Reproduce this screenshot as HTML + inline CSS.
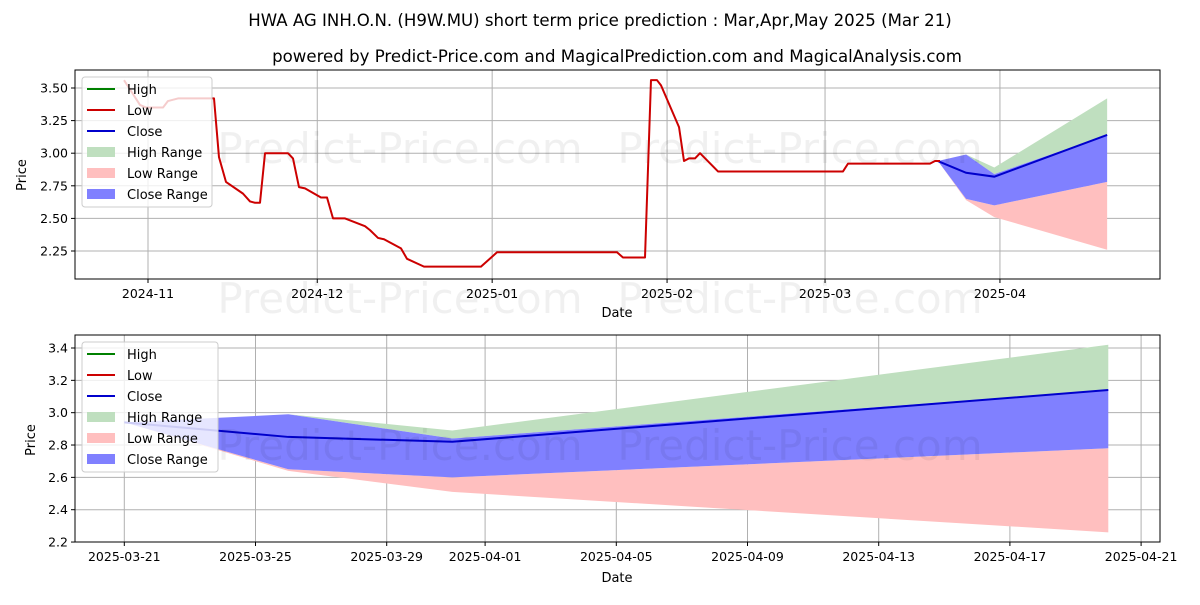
<!DOCTYPE html>
<html><head><meta charset="utf-8"><style>
body{margin:0;background:#fff;}
svg{font-family:"DejaVu Sans","Liberation Sans",sans-serif;}
</style></head><body>
<svg id="c" width="1200" height="600" xmlns="http://www.w3.org/2000/svg">
<text x="600" y="26" text-anchor="middle" font-size="16.6">HWA AG INH.O.N. (H9W.MU) short term price prediction : Mar,Apr,May 2025 (Mar 21)</text>
<text x="617" y="62" text-anchor="middle" font-size="16.6">powered by Predict-Price.com and MagicalPrediction.com and MagicalAnalysis.com</text>
<g id="top"></g>
<g id="bot"></g>
</svg>
<script>
// Top chart: history (days from 2024-11-01), low line
const histDays=[-4.25,-1.42,-0.35,2.66,3.54,5.32,11.7,12.58,13.82,16.84,18.08,18.97,19.85,20.74,24.81,25.7,26.76,27.83,30.66,31.73,32.79,34.92,38.46,39.35,40.77,41.83,44.84,45.91,48.92,59.02,61.86,83.13,84.19,88.09,89.15,90.22,90.93,94.12,95.0,95.89,96.95,97.84,101.03,123.18,124.07,138.6,139.49,140.38];
const histLow=[3.56,3.37,3.35,3.35,3.40,3.42,3.42,2.97,2.78,2.69,2.63,2.62,2.62,3.00,3.00,2.96,2.74,2.73,2.66,2.66,2.50,2.50,2.44,2.41,2.35,2.34,2.27,2.19,2.13,2.13,2.24,2.24,2.20,2.20,3.56,3.56,3.52,3.20,2.94,2.96,2.96,3.00,2.86,2.86,2.92,2.92,2.94,2.94];
// Forecast (days from 2025-03-21)
const fDays=[0,5,10,30];
const fClose=[2.94,2.85,2.82,3.14];
const fHighTop=[2.94,2.99,2.89,3.42];
const fCloseTop=[2.94,2.99,2.84,3.14];
const fCloseBot=[2.94,2.65,2.60,2.78];
const fLowBot=[2.94,2.64,2.51,2.26];
const topYTicks=[2.25,2.50,2.75,3.00,3.25,3.50];
const topXTicks=[["2024-11",0],["2024-12",30],["2025-01",61],["2025-02",92],["2025-03",120],["2025-04",151]];
const botYTicks=[2.2,2.4,2.6,2.8,3.0,3.2,3.4];
const botXTicks=[["2025-03-21",0],["2025-03-25",4],["2025-03-29",8],["2025-04-01",11],["2025-04-05",15],["2025-04-09",19],["2025-04-13",23],["2025-04-17",27],["2025-04-21",31]];

const NS="http://www.w3.org/2000/svg";
function mk(p,t,a){const e=document.createElementNS(NS,t);for(const k in a)e.setAttribute(k,a[k]);p.appendChild(e);return e;}

function panel(g,L,T,R,B,xf,yf,yTicks,yFmt,xTicks,fOff,wmY){
  mk(g,'rect',{x:L,y:T,width:R-L,height:B-T,fill:'#fff'});
  yTicks.forEach(v=>{const y=yf(v);mk(g,'line',{x1:L,x2:R,y1:y,y2:y,stroke:'#b0b0b0','stroke-width':1});
    mk(g,'line',{x1:L-4,x2:L,y1:y,y2:y,stroke:'#000'});
    const t=mk(g,'text',{x:L-7,y:y+4.5,'text-anchor':'end','font-size':12.5});t.textContent=yFmt(v);
    
    });
  xTicks.forEach(d=>{const x=xf(d[1]);mk(g,'line',{x1:x,x2:x,y1:T,y2:B,stroke:'#b0b0b0','stroke-width':1});
    mk(g,'line',{x1:x,x2:x,y1:B,y2:B+4,stroke:'#000'});
    const t=mk(g,'text',{x:x,y:B+19,'text-anchor':'middle','font-size':12.5});t.textContent=d[0];
    
    });
  function band(top,bot,col,name){let pts=[];fDays.forEach((d,i)=>pts.push(xf(d+fOff)+','+yf(top[i])));
    for(let i=fDays.length-1;i>=0;i--)pts.push(xf(fDays[i]+fOff)+','+yf(bot[i]));
    const p=mk(g,'polygon',{points:pts.join(' '),fill:col});
    
    }
  band(fHighTop,fCloseTop,'#bfdfbf','high-range');
  band(fCloseBot,fLowBot,'#ffbfbf','low-range');
  band(fCloseTop,fCloseBot,'#8080ff','close-range');
  const cl=mk(g,'polyline',{points:fDays.map((d,i)=>xf(d+fOff)+','+yf(fClose[i])).join(' '),fill:'none',stroke:'#0000cc','stroke-width':2});
  
  
  mk(g,'rect',{x:L,y:T,width:R-L,height:B-T,fill:'none',stroke:'#000','stroke-width':1});
  wmY.forEach(wy=>[400,800].forEach(wx=>{const w=mk(g,'text',{x:wx,y:wy+15,'text-anchor':'middle','font-size':42,fill:'#000','fill-opacity':0.06});w.textContent='Predict-Price.com';
  
  }));
}
function legend(g,x,y,w){
  const r=mk(g,'rect',{x:x,y:y,width:w,height:130,rx:3,fill:'#fff','fill-opacity':0.8,stroke:'#ccc'});
  
  
  const items=[['High','line','#008000'],['Low','line','#cc0000'],['Close','line','#0000cc'],['High Range','box','#bfdfbf'],['Low Range','box','#ffbfbf'],['Close Range','box','#8080ff']];
  items.forEach((it,i)=>{const cy=y+12+i*21;
    if(it[1]=='line')mk(g,'line',{x1:x+5,x2:x+33,y1:cy,y2:cy,stroke:it[2],'stroke-width':2});
    else mk(g,'rect',{x:x+5,y:cy-5,width:28,height:10,fill:it[2]});
    const t=mk(g,'text',{x:x+45,y:cy+5,'font-size':13});t.textContent=it[0];
    
    });
}
const g1=document.getElementById('top');
const tx=d=>148+d*5.642, ty=v=>88+(3.5-v)*130.4;
panel(g1,75,70,1160,279,tx,ty,topYTicks,v=>v.toFixed(2),topXTicks,140,[148,298]);
const low=mk(g1,'polyline',{points:histDays.map((d,i)=>tx(d)+','+ty(histLow[i])).join(' '),fill:'none',stroke:'#cc0000','stroke-width':2,'stroke-linejoin':'round'});


legend(g1,82,77,130);
let t=mk(g1,'text',{x:617,y:317,'text-anchor':'middle','font-size':13});t.textContent='Date';

t=mk(g1,'text',{x:26,y:175,'text-anchor':'middle','font-size':13,transform:'rotate(-90 26 175)'});t.textContent='Price';

const g2=document.getElementById('bot');
const bx=d=>124.3+d*32.8, by=v=>348+(3.4-v)*161.7;
panel(g2,75,335,1160,542,bx,by,botYTicks,v=>v.toFixed(1),botXTicks,0,[445]);
legend(g2,82,342,136);
t=mk(g2,'text',{x:617,y:582,'text-anchor':'middle','font-size':13});t.textContent='Date';

t=mk(g2,'text',{x:35,y:440,'text-anchor':'middle','font-size':13,transform:'rotate(-90 35 440)'});t.textContent='Price';

</script>
</body></html>
